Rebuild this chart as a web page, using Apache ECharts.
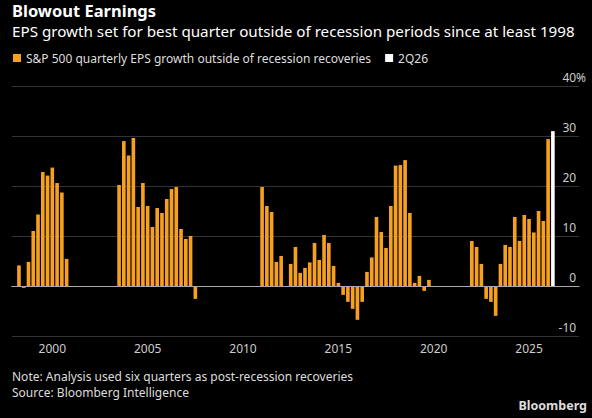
<!DOCTYPE html>
<html>
<head>
    <meta charset="utf-8">
    <title>Blowout Earnings</title>
    <script src="https://cdn.jsdelivr.net/npm/echarts@6/dist/echarts.min.js"></script>
    <style>
        html, body { margin: 0; padding: 0; background: #000; }
    </style>
</head>
<body>
<div id="main" style="width: 592px;height:418px;"></div>
<script type="text/javascript">
    // quarters from 1Q98 to 3Q27, one value per quarter (null = recession / recovery period)
    var firstYear = 1998;
    var quarterCount = 119;
    var epsGrowth = [
        null, 4.2, -0.3, 4.9,        // 1998
        11.1, 14.4, 22.9, 22.2,      // 1999
        23.8, 20.7, 18.8, 5.5,       // 2000
        null, null, null, null,      // 2001
        null, null, null, null,      // 2002
        null, null, 20.3, 29.1,      // 2003
        26.2, 29.7, 15.9, 20.7,      // 2004
        16.1, 11.9, 15.7, 14.7,      // 2005
        17.5, 19.5, 19.9, 11.5,      // 2006
        9.5, 10.1, -2.5, null,       // 2007
        null, null, null, null,      // 2008
        null, null, null, null,      // 2009
        null, null, null, null,      // 2010
        19.9, 16.1, 14.9, 4.9,       // 2011
        6.1, null, 4.5, 7.9,         // 2012
        2.7, 3.7, 4.8, 8.7,          // 2013
        5.3, 10.3, 8.7, 4.1,         // 2014
        0.7, -1.7, -3.1, -4.5,       // 2015
        -6.7, -3.1, 2.9, 5.8,        // 2016
        13.9, 10.9, 7.7, 16.1,       // 2017
        24.2, 24.3, 25.3, 14.7,      // 2018
        0.7, 2.1, -0.9, 1.3,         // 2019
        null, null, null, null,      // 2020
        null, null, null, null,      // 2021
        9.1, 7.9, 4.5, -2.5,         // 2022
        -3.1, -5.9, 4.5, 8.3,        // 2023
        7.9, 13.9, 9.1, 14.3,        // 2024
        13.5, 10.8, 15.1, 13.1,      // 2025
        29.5                         // 1Q26
    ];
    var estimateLabel = '2Q26';
    var estimateValue = 31.1;
    var yTicks = [-10, 0, 10, 20, 30, 40];

    var categories = [];
    for (var i = 0; i < quarterCount; i++) {
        var yr = firstYear + Math.floor(i / 4);
        categories.push((i % 4 + 1) + 'Q' + String(yr).slice(2));
    }
    var mainData = categories.map(function (c, i) {
        return epsGrowth[i] === undefined ? null : epsGrowth[i];
    });
    var estData = categories.map(function (c) {
        return c === estimateLabel ? estimateValue : null;
    });

    function yearOf(idx) { return firstYear + Math.floor(idx / 4); }

    var font = 'Noto Sans';
    var myChart = echarts.init(document.getElementById('main'), null, {renderer: 'svg'});
    var option = {
        backgroundColor: '#000',
        animation: false,
        textStyle: { fontFamily: font },
        title: [{
            text: 'Blowout Earnings',
            left: 7,
            top: 0,
            padding: [2, 5, 0, 5],
            textStyle: { color: '#fff', fontSize: 16.5, lineHeight: 17, fontWeight: 'bold', fontFamily: font }
        }, {
            text: 'EPS growth set for best quarter outside of recession periods since at least 1998',
            left: 7,
            top: 22,
            padding: [0, 5, 0, 5],
            textStyle: { color: '#fff', fontSize: 15.2, lineHeight: 18, fontWeight: 'normal', fontFamily: font }
        }],
        legend: {
            left: 8,
            top: 47,
            icon: 'rect',
            itemWidth: 8,
            itemHeight: 8,
            itemGap: 14,
            textStyle: { color: '#ddd', fontSize: 12, fontFamily: font },
            data: ['S&P 500 quarterly EPS growth outside of recession recoveries', estimateLabel]
        },
        grid: {
            left: 11.8,
            right: 12.9,
            top: 86.7,
            bottom: 81.7
        },
        xAxis: [{
            type: 'category',
            data: categories,
            boundaryGap: true,
            axisLine: { lineStyle: { color: '#999' } },
            axisTick: {
                alignWithLabel: true,
                length: 3,
                lineStyle: { color: '#999' },
                interval: function (idx) { return idx % 2 === 0; }
            },
            axisLabel: {
                color: '#ccc',
                fontSize: 12,
                margin: 6,
                interval: function (idx) { return idx % 4 === 0 && yearOf(idx) % 5 === 0; },
                formatter: function (v, idx) { return String(yearOf(idx)); }
            }
        }, {
            type: 'category',
            data: categories,
            position: 'bottom',
            boundaryGap: true,
            axisLine: { show: false },
            axisTick: {
                alignWithLabel: true,
                length: 6,
                lineStyle: { color: '#999' },
                interval: function (idx) { return idx % 4 === 0 && yearOf(idx) % 5 === 0; }
            },
            axisLabel: { show: false }
        }],
        yAxis: {
            type: 'value',
            position: 'right',
            min: -10,
            max: 40,
            interval: 10,
            axisLine: { show: false },
            axisTick: { show: false },
            splitLine: { lineStyle: { color: '#333' } },
            axisLabel: {
                inside: true,
                margin: -7,
                verticalAlign: 'bottom',
                padding: [0, 0, 3, 0],
                formatter: function (v) {
                    return v === yTicks[yTicks.length - 1] ? '{n|' + v + '}{p|%}' : '{n|' + v + '}{h|%}';
                },
                rich: {
                    n: { color: '#ccc', fontSize: 12, fontFamily: font },
                    p: { color: '#ccc', fontSize: 12, fontFamily: font },
                    h: { color: 'rgba(0,0,0,0)', fontSize: 12, fontFamily: font }
                }
            }
        },
        series: [{
            name: 'S&P 500 quarterly EPS growth outside of recession recoveries',
            type: 'bar',
            data: mainData,
            barWidth: '76%',
            barGap: '-100%',
            itemStyle: { color: '#f6a01f' },
            markLine: {
                silent: true,
                symbol: 'none',
                label: { show: false },
                lineStyle: { color: '#aaa', type: 'solid', width: 1 },
                data: [{ yAxis: 0 }]
            }
        }, {
            name: estimateLabel,
            type: 'bar',
            data: estData,
            barWidth: '76%',
            barGap: '-100%',
            itemStyle: { color: '#fff' }
        }],
        graphic: [{
            type: 'text',
            left: 12,
            top: 370,
            style: { text: 'Note: Analysis used six quarters as post-recession recoveries', fill: '#ddd', fontSize: 12, fontFamily: font }
        }, {
            type: 'text',
            left: 12,
            top: 386,
            style: { text: 'Source: Bloomberg Intelligence', fill: '#ddd', fontSize: 12, fontFamily: font }
        }, {
            type: 'text',
            right: 5,
            top: 399,
            style: { text: 'Bloomberg', fill: '#ddd', fontSize: 12.5, fontWeight: 'bold', fontFamily: font }
        }]
    };
    myChart.setOption(option);
</script>
</body>
</html>
